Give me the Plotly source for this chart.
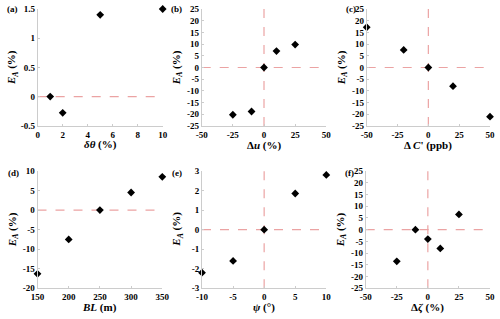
import plotly.graph_objects as go

# Data
a_x = [1, 2, 5, 10]
a_y = [0.0, -0.28, 1.4, 1.5]
b_x = [-25, -10, 0, 10, 25]
b_y = [-20.2, -18.8, 0.0, 7.0, 9.8]
c_x = [-50, -20, 0, 20, 50]
c_y = [17.2, 7.5, 0.0, -8.0, -21.0]
d_x = [150, 200, 250, 300, 350]
d_y = [-16.3, -7.5, 0.0, 4.5, 8.5]
e_x = [-10, -5, 0, 5, 10]
e_y = [-2.2, -1.6, 0.0, 1.85, 2.8]
f_x = [-25, -10, 0, 10, 25]
f_y = [-13.5, 0.0, -4.0, -8.0, 6.5]

panels = [
    dict(x=a_x, y=a_y, xr=[0, 10], xt=[0, 2, 4, 6, 8, 10], yr=[-0.5, 1.5], yt=[-0.5, 0, 0.5, 1, 1.5],
         yl=["-0.5", "0", "0.5", "1", "1.5"], vline=False, lab="(a)",
         xtitle="<b><i>δθ</i> (%)</b>"),
    dict(x=b_x, y=b_y, xr=[-50, 50], xt=[-50, -25, 0, 25, 50], yr=[-25, 25], yt=list(range(-25, 26, 5)),
         yl=None, vline=True, lab="(b)", xtitle="<b>Δ<i>u</i> (%)</b>"),
    dict(x=c_x, y=c_y, xr=[-50, 50], xt=[-50, -25, 0, 25, 50], yr=[-25, 25], yt=list(range(-25, 26, 5)),
         yl=None, vline=True, lab="(c)", xtitle="<b>Δ <i>C</i>' (ppb)</b>"),
    dict(x=d_x, y=d_y, xr=[150, 350], xt=[150, 200, 250, 300, 350], yr=[-20, 10], yt=list(range(-20, 11, 5)),
         yl=None, vline=False, lab="(d)", xtitle="<b><i>BL</i> (m)</b>"),
    dict(x=e_x, y=e_y, xr=[-10, 10], xt=[-10, -5, 0, 5, 10], yr=[-3, 3], yt=list(range(-3, 4)),
         yl=None, vline=True, lab="(e)", xtitle="<b><i>ψ</i> (°)</b>"),
    dict(x=f_x, y=f_y, xr=[-50, 50], xt=[-50, -25, 0, 25, 50], yr=[-25, 25], yt=list(range(-25, 26, 5)),
         yl=None, vline=True, lab="(f)", xtitle="<b>Δ<i>ζ</i> (%)</b>"),
]

W, H = 500, 319
# pixel boxes: (left, right, top, bottom)
boxes = [
    (37.7, 162.7, 9, 125.7),
    (201.7, 326.3, 9, 126),
    (366.7, 490, 9, 126),
    (37.5, 162.3, 171, 288.3),
    (202.0, 326.3, 171, 288.3),
    (365.7, 490, 171, 288.3),
]
labpos = [(12.5, 9), (176, 9), (351, 9), (13, 172.5), (176.5, 172.5), (349, 172.5)]

font = "Liberation Serif"
fig = go.Figure()
layout = dict(width=W, height=H, margin=dict(l=0, r=0, t=0, b=0, autoexpand=False),
              paper_bgcolor="white", plot_bgcolor="white", showlegend=False)
shapes = []
annotations = []
for i, (p, bx) in enumerate(zip(panels, boxes), start=1):
    xa = "xaxis" if i == 1 else f"xaxis{i}"
    ya = "yaxis" if i == 1 else f"yaxis{i}"
    xr_ = "x" if i == 1 else f"x{i}"
    yr_ = "y" if i == 1 else f"y{i}"
    l, r, t, b = bx
    common = dict(showgrid=False, zeroline=False, showline=True, linecolor="#cccccc", linewidth=1,
                  ticks="inside", ticklen=2, tickcolor="#cccccc", mirror=False, automargin=False,
                  tickfont=dict(family=font, size=9, color="black"))
    layout[xa] = dict(domain=[l / W, r / W], range=p["xr"], tickvals=p["xt"],
                      ticktext=[f"<b>{v}</b>" for v in p["xt"]], anchor=yr_, **common)
    yl = p["yl"] if p["yl"] else [str(v) for v in p["yt"]]
    layout[ya] = dict(domain=[1 - b / H, 1 - t / H], range=p["yr"], tickvals=p["yt"],
                      ticktext=[f"<b>{v}</b>" for v in yl], anchor=xr_, **common)
    shapes.append(dict(type="line", xref=xr_, yref=yr_, x0=p["xr"][0], x1=p["xr"][1], y0=0, y1=0,
                       line=dict(color="#eba3a3", width=1.2, dash="dash"), layer="below"))
    if p["vline"]:
        shapes.append(dict(type="line", xref=xr_, yref=yr_, x0=0, x1=0, y0=p["yr"][0], y1=p["yr"][1],
                           line=dict(color="#eba3a3", width=1.2, dash="dash"), layer="below"))
    fig.add_trace(go.Scatter(x=p["x"], y=p["y"], mode="markers", xaxis=xr_, yaxis=yr_,
                             marker=dict(symbol="diamond", size=6, color="black"), cliponaxis=False))
    # axis titles
    annotations.append(dict(text=p["xtitle"], x=(l + r) / 2 / W, y=1 - (b + 19) / H, xref="paper", yref="paper",
                            showarrow=False, font=dict(family=font, size=11, color="black"),
                            xanchor="center", yanchor="middle"))
    annotations.append(dict(text="<b><i>E</i><sub><i>A</i></sub> (%)</b>", x=(l - 25) / W, y=1 - ((t + b) / 2) / H,
                            xref="paper", yref="paper", showarrow=False, textangle=-90,
                            font=dict(family=font, size=11, color="black"), xanchor="center", yanchor="middle"))
    lx, ly = labpos[i - 1]
    annotations.append(dict(text=f"<b>{p['lab']}</b>", x=lx / W, y=1 - ly / H, xref="paper", yref="paper",
                            showarrow=False, font=dict(family=font, size=9, color="black"),
                            xanchor="center", yanchor="middle"))

layout["shapes"] = shapes
layout["annotations"] = annotations
fig.update_layout(**layout)
fig.write_html("out.html", config={"displayModeBar": False},
               post_script="document.body.style.margin='0';document.body.style.padding='0';")
